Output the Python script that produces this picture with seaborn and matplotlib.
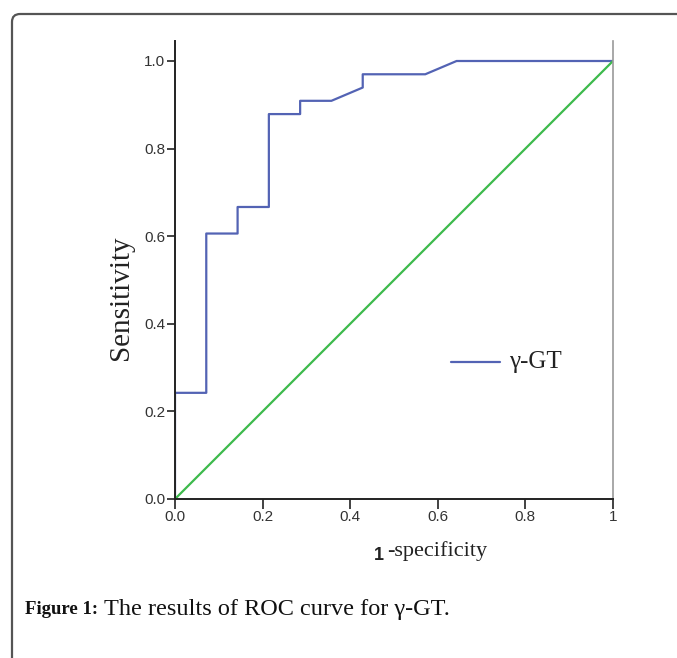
import matplotlib
matplotlib.use("Agg")
import matplotlib.pyplot as plt
import seaborn as sns
import pandas as pd
from matplotlib.patches import FancyBboxPatch

sns.set_theme(style="white")
plt.rcParams['font.family'] = ['Liberation Sans', 'DejaVu Sans']

# ROC curve data (1 - specificity, sensitivity)
fpr = [0.0, 0.0, 0.0714, 0.0714, 0.1429, 0.1429, 0.2143, 0.2143, 0.2857, 0.2857,
       0.3571, 0.4286, 0.4286, 0.5714, 0.6429, 1.0]
tpr = [0.0, 0.2424, 0.2424, 0.6061, 0.6061, 0.6667, 0.6667, 0.8788, 0.8788, 0.9091,
       0.9091, 0.9394, 0.9697, 0.9697, 1.0, 1.0]
ref_x = [0.0, 1.0]
ref_y = [0.0, 1.0]
xticks = [0.0, 0.2, 0.4, 0.6, 0.8, 1.0]
xticklabels = ["0.0", "0.2", "0.4", "0.6", "0.8", "1"]
yticks = [0.0, 0.2, 0.4, 0.6, 0.8, 1.0]
yticklabels = ["0.0", "0.2", "0.4", "0.6", "0.8", "1.0"]

W, H = 677, 658
fig = plt.figure(figsize=(W / 100, H / 100), dpi=100)
fig.patch.set_facecolor("white")

# outer rounded frame
frame = FancyBboxPatch((12 / W, -0.05), 1.2, (H - 14) / H + 0.05,
                       boxstyle="round,pad=0,rounding_size=0.012",
                       transform=fig.transFigure, fill=False,
                       edgecolor="#555555", linewidth=1.6, clip_on=False)
fig.patches.append(frame)

ax = fig.add_axes([175 / W, (H - 499) / H, 438 / W, 458 / H])
ax.set_facecolor("white")

df = pd.DataFrame({"fpr": fpr, "tpr": tpr})
sns.lineplot(data=df, x="fpr", y="tpr", sort=False, estimator=None,
             color="#5363b4", linewidth=1.6, ax=ax)
sns.lineplot(x=ref_x, y=ref_y, sort=False, estimator=None,
             color="#3dba4c", linewidth=1.6, ax=ax)

ax.set_xlim(0, 1)
ax.set_ylim(0, 1 + 20 / 438)
ax.set_xticks(xticks)
ax.set_xticklabels(xticklabels)
ax.set_yticks(yticks)
ax.set_yticklabels(yticklabels)
ax.tick_params(axis="x", direction="out", length=7, width=1.2, color="#222222",
               labelsize=11, pad=1, labelcolor="#333333", bottom=True)
ax.tick_params(axis="y", direction="out", length=6, width=1.2, color="#222222",
               labelsize=11, pad=1, labelcolor="#333333", left=True)
for side in ["left", "bottom"]:
    ax.spines[side].set_color("#222222")
    ax.spines[side].set_linewidth(1.4)
ax.spines["top"].set_visible(False)
ax.spines["right"].set_color("#999999")
ax.spines["right"].set_linewidth(1.2)
ax.set_xlabel("")
ax.set_ylabel("")

# legend drawn manually
ax.plot([(451 - 175) / 438, (500 - 175) / 438], [(499 - 362) / 438] * 2,
        color="#5363b4", linewidth=1.6)
ax.text((509 - 175) / 438, (499 - 362) / 438, "γ-GT", va="center", ha="left",
        fontsize=18, family=["Liberation Serif", "DejaVu Serif"], color="#222222")

# axis labels
fig.text(121 / W, 1 - 298 / H, "Sensitivity", rotation=90, va="center", ha="center",
         fontsize=21, family=["Liberation Serif", "DejaVu Serif"], color="#222222")
fig.text(384 / W, 1 - 555 / H, "1", va="center", ha="right", fontsize=13,
         fontweight="bold", color="#222222")
fig.text(387 / W, 1 - 551 / H, "-specificity", va="center", ha="left", fontsize=16,
         family=["Liberation Serif", "DejaVu Serif"], color="#222222")

# caption
fig.text(25 / W, 1 - 609 / H, "Figure 1:", va="center", ha="left", fontsize=13.5,
         fontweight="bold", family=["Liberation Serif", "DejaVu Serif"], color="#111111")
fig.text(104 / W, 1 - 609 / H, "The results of ROC curve for γ-GT.", va="center",
         ha="left", fontsize=17.5, family=["Liberation Serif", "DejaVu Serif"],
         color="#111111")

fig.savefig("out.png", dpi=100, facecolor="white")
